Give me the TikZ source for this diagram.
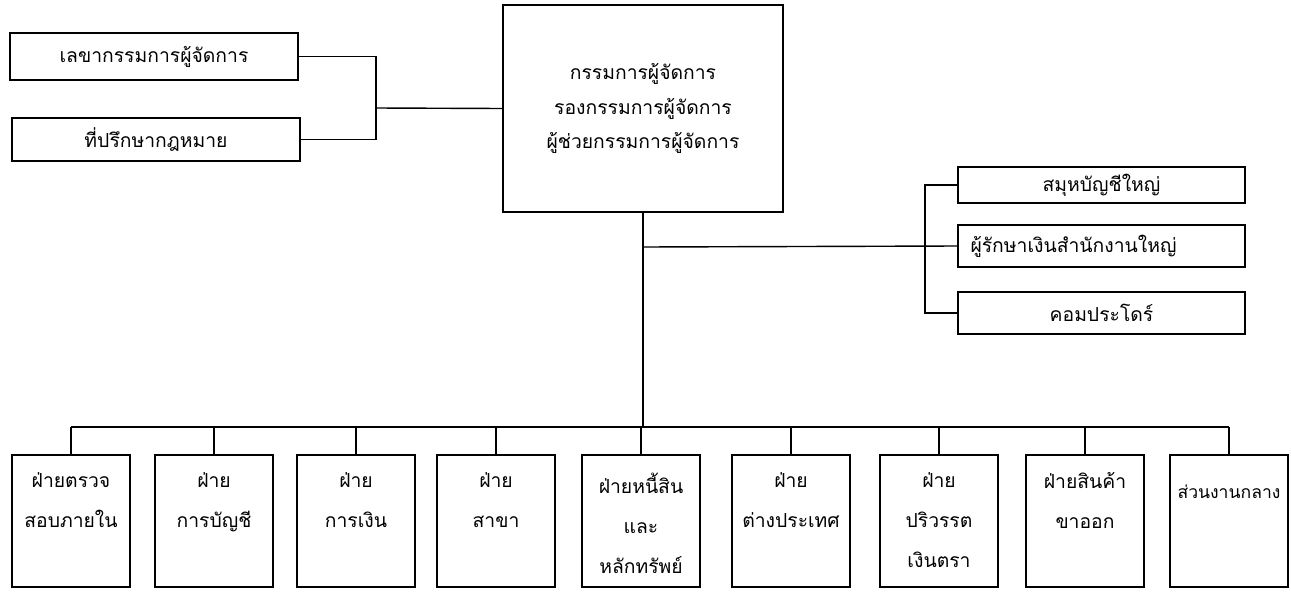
\documentclass[tikz,border=0pt]{standalone}
\usepackage{fontspec}
\newfontfamily\thaifont[Script=Thai]{Loma}
\usetikzlibrary{positioning}

\tikzset{
  box/.style={draw, line width=0.8pt, inner sep=0pt, align=center,
    font=\thaifont\fontsize{11}{19.4}\selectfont},
  unit/.style={draw, line width=0.8pt, minimum width=2.36cm, minimum height=2.64cm},
  unittext/.style={inner sep=0pt, align=center,
    font=\thaifont\fontsize{11}{22.8}\selectfont},
  link/.style={line width=0.8pt}
}

\begin{document}
\begin{tikzpicture}[x=0.02cm, y=-0.02cm]
    \useasboundingbox (0,0) rectangle (1291,592);

    % Staff boxes on the left
    \node[box, minimum width=5.76cm, minimum height=0.94cm] (sec) at (154,56.5) {เลขากรรมการผู้จัดการ};
    \node[box, minimum width=5.76cm, minimum height=0.86cm] (law) at (156,139.5) {ที่ปรึกษากฎหมาย};

    % Management
    \node[box, minimum width=5.6cm, minimum height=4.14cm] (md) at (643,108.5)
        {กรรมการผู้จัดการ\\รองกรรมการผู้จัดการ\\ผู้ช่วยกรรมการผู้จัดการ};

    % Boxes on the right
    \node[box, minimum width=5.74cm, minimum height=0.72cm] (acct) at (1101.5,185) {สมุหบัญชีใหญ่};
    \node[box, minimum width=5.74cm, minimum height=0.84cm, text width=5.24cm, align=left] (cash) at (1101.5,246) {ผู้รักษาเงินสำนักงานใหญ่};
    \node[box, minimum width=5.74cm, minimum height=0.84cm] (comp) at (1101.5,313) {คอมประโดร์};

    % Departments
    \node[unit] (audit)  at (71,521)   {};
    \node[unit] (books)  at (214,521)  {};
    \node[unit] (fin)    at (356,521)  {};
    \node[unit] (branch) at (496,521)  {};
    \node[unit] (loan)   at (641,521)  {};
    \node[unit] (forex)  at (791,521)  {};
    \node[unit] (money)  at (939,521)  {};
    \node[unit] (export) at (1085,521) {};
    \node[unit] (office) at (1229,521) {};

    \node[unittext, below=0.36cm of audit.north]  (audit-t)  {ฝ่ายตรวจ\\สอบภายใน};
    \node[unittext, below=0.36cm of books.north]  (books-t)  {ฝ่าย\\การบัญชี};
    \node[unittext, below=0.36cm of fin.north]    (fin-t)    {ฝ่าย\\การเงิน};
    \node[unittext, below=0.36cm of branch.north] (branch-t) {ฝ่าย\\สาขา};
    \node[unittext, below=0.36cm of loan.north]   (loan-t)   {ฝ่ายหนี้สิน\\และ\\หลักทรัพย์};
    \node[unittext, below=0.36cm of forex.north]  (forex-t)  {ฝ่าย\\ต่างประเทศ};
    \node[unittext, below=0.36cm of money.north]  (money-t)  {ฝ่าย\\ปริวรรต\\เงินตรา};
    \node[unittext, below=0.36cm of export.north] (export-t) {ฝ่ายสินค้า\\ขาออก};
    \node[unittext, below=0.60cm of office.north, font=\thaifont\fontsize{10}{22.8}\selectfont] (office-t) {ส่วนงานกลาง};

    % Joints
    \coordinate (lj)  at (376,108);
    \coordinate (rj)  at (925,247);
    \coordinate (bus) at (643,427);

    % Left bracket
    \draw[link] (sec.east) -| (lj) |- (law.east);
    \draw[link] (lj) -- (md.west);

    % Right bracket
    \draw[link] (md.south |- rj) -- (cash.west);
    \draw[link] (acct.west) -| (rj) |- (comp.west);

    % Trunk and bus
    \draw[link] (md.south) -- (bus);
    \draw[link] (audit.north |- bus) -- (office.north |- bus);

    % Drops
    \draw[link] (audit.north |- bus)  -- (audit.north);
    \draw[link] (books.north |- bus)  -- (books.north);
    \draw[link] (fin.north |- bus)    -- (fin.north);
    \draw[link] (branch.north |- bus) -- (branch.north);
    \draw[link] (loan.north |- bus)   -- (loan.north);
    \draw[link] (forex.north |- bus)  -- (forex.north);
    \draw[link] (money.north |- bus)  -- (money.north);
    \draw[link] (export.north |- bus) -- (export.north);
    \draw[link] (office.north |- bus) -- (office.north);
\end{tikzpicture}
\end{document}
